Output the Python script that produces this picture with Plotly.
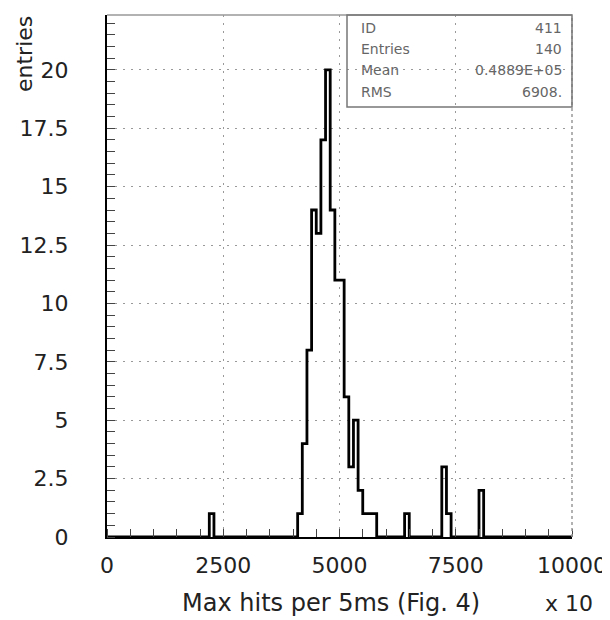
import plotly.graph_objects as go
import numpy as np

# histogram data: lower bin edges (bin width 100) and counts
bin_width = 100
x_min, x_max = 0, 10000
bin_lows = [2200, 4100, 4200, 4300, 4400, 4500, 4600, 4700, 4800, 4900, 5000,
            5100, 5200, 5300, 5400, 5500, 5600, 5700, 6400, 7200, 7300, 8000]
bin_counts = [1, 1, 4, 8, 14, 13, 17, 20, 14, 11, 11,
              6, 3, 5, 2, 1, 1, 1, 1, 3, 1, 2]

y_ticks = [0, 2.5, 5, 7.5, 10, 12.5, 15, 17.5, 20]
y_tick_text = ['0', '2.5', '5', '7.5', '10', '12.5', '15', '17.5', '20']
x_ticks = [0, 2500, 5000, 7500, 10000]
x_tick_text = ['0', '2500', '5000', '7500', '10000']

stats_labels = ['ID', 'Entries', 'Mean', 'RMS']
stats_values = ['411', '140', '0.4889E+05', '6908.']

# full binned counts over the range
n_bins = int((x_max - x_min) / bin_width)
edges = np.arange(n_bins + 1) * bin_width + x_min
counts = np.zeros(n_bins)
for lo, c in zip(bin_lows, bin_counts):
    counts[int((lo - x_min) / bin_width)] = c

xs = list(edges)
ys = list(counts) + [counts[-1]]

FONT = 'DejaVu Sans, sans-serif'

# page body has an 8px margin, so the figure is shifted; compensate here
W, H = 602, 612
L, R, T, B = 99, 38, 7, 83
PW, PH = W - L - R, H - T - B


def px(xp):   # reference pixel -> paper x
    return (xp - 8 - L) / PW


def py(yp):   # reference pixel -> paper y
    return 1 - (yp - 8 - T) / PH


fig = go.Figure()
fig.add_trace(go.Scatter(x=xs, y=ys, mode='lines', line_shape='hv',
                         line=dict(color='black', width=2.8),
                         hoverinfo='skip', showlegend=False))

grid_dash = '2px,6px'
fig.update_layout(
    width=W, height=H,
    margin=dict(l=L, r=R, t=T, b=B),
    paper_bgcolor='white', plot_bgcolor='white',
    font=dict(family=FONT, size=22, color='#222'),
    xaxis=dict(range=[x_min, x_max], tickvals=x_ticks, ticktext=x_tick_text,
               ticks='', showgrid=True, gridcolor='#999', griddash=grid_dash, gridwidth=1,
               showline=True, linecolor='black', linewidth=2, mirror=False,
               zeroline=False, ticklabelstandoff=8, automargin=False,
               minor=dict(dtick=500, ticks='inside', ticklen=8, tickcolor='#444',
                          showgrid=False)),
    yaxis=dict(range=[0, 22.35], tickvals=y_ticks, ticktext=y_tick_text,
               ticks='', showgrid=True, gridcolor='#999', griddash=grid_dash, gridwidth=1,
               showline=True, linecolor='black', linewidth=2, mirror=False,
               zeroline=False, ticklabelstandoff=32, automargin=False,
               minor=dict(dtick=0.5, ticks='inside', ticklen=8, tickcolor='#444',
                          showgrid=False)),
)

# outer frame top/right
fig.add_shape(type='line', xref='paper', yref='paper', x0=0, x1=1, y0=1, y1=1,
              line=dict(color='#999', width=1.5))
fig.add_shape(type='line', xref='paper', yref='paper', x0=1, x1=1, y0=0, y1=1,
              line=dict(color='#999', width=1.5, dash='dot'))

# stats box
fig.add_shape(type='rect', xref='paper', yref='paper',
              x0=px(347), x1=1, y0=py(107), y1=1,
              line=dict(color='#777', width=1.5), fillcolor='rgba(0,0,0,0)')
row_y = [28, 49, 70, 92]
for lab, val, yy in zip(stats_labels, stats_values, row_y):
    fig.add_annotation(xref='paper', yref='paper', x=px(359), y=py(yy),
                       text=lab, showarrow=False, xanchor='left', yanchor='middle',
                       font=dict(size=14, color='#666', family=FONT))
    fig.add_annotation(xref='paper', yref='paper', x=px(564), y=py(yy),
                       text=val, showarrow=False, xanchor='right', yanchor='middle',
                       font=dict(size=14, color='#666', family=FONT))

# axis titles
fig.add_annotation(xref='paper', yref='paper', x=px(331), y=py(603),
                   text='Max hits per 5ms (Fig. 4)', showarrow=False,
                   xanchor='center', yanchor='middle', font=dict(size=24, family=FONT))
fig.add_annotation(xref='paper', yref='paper', x=px(569), y=py(603),
                   text='x 10', showarrow=False,
                   xanchor='center', yanchor='middle', font=dict(size=22, family=FONT))
fig.add_annotation(xref='paper', yref='paper', x=px(25), y=py(14),
                   text='entries', showarrow=False, textangle=-90,
                   xanchor='center', yanchor='top', font=dict(size=22, family=FONT))

fig.write_html("out.html")
